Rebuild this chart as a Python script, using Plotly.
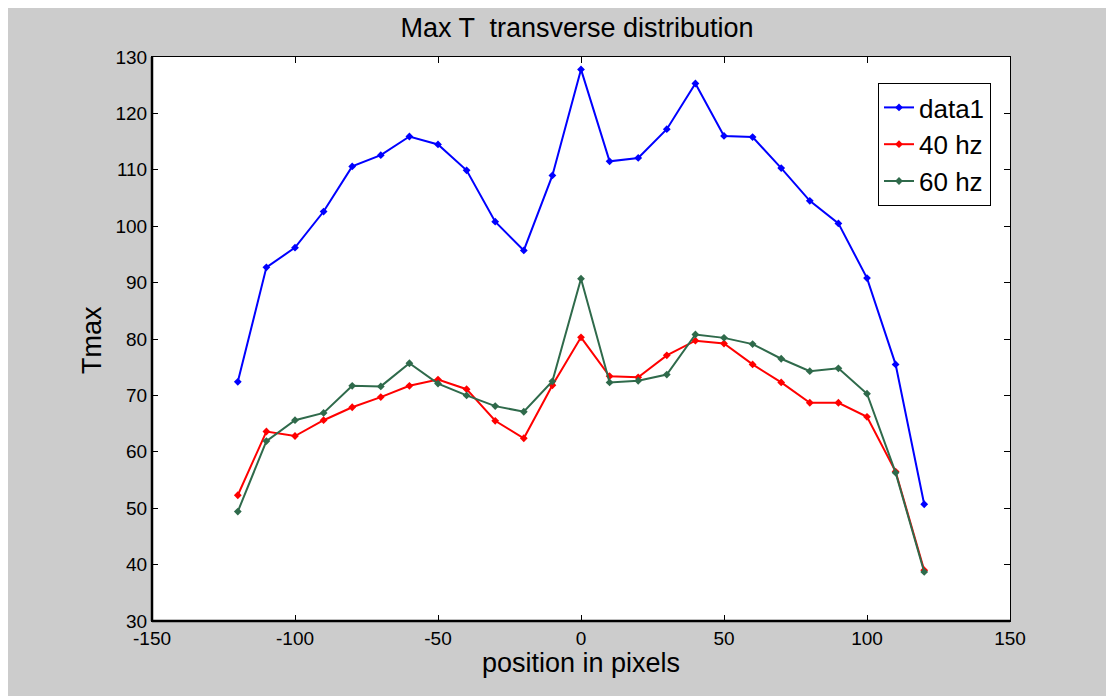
import plotly.graph_objects as go

positions = [-120, -110, -100, -90, -80, -70, -60, -50, -40, -30, -20, -10, 0,
             10, 20, 30, 40, 50, 60, 70, 80, 90, 100, 110, 120]
data1 = [72.4, 92.7, 96.2, 102.6, 110.6, 112.6, 115.9, 114.5, 109.9, 100.8, 95.7, 109.0, 127.8,
         111.5, 112.1, 117.2, 125.3, 116.0, 115.8, 110.3, 104.5, 100.5, 90.8, 75.5, 50.7]
hz40 = [52.3, 63.6, 62.8, 65.6, 67.9, 69.7, 71.7, 72.8, 71.1, 65.5, 62.4, 71.8, 80.3,
        73.4, 73.2, 77.1, 79.7, 79.2, 75.5, 72.3, 68.7, 68.7, 66.2, 56.5, 39.0]
hz60 = [49.4, 61.9, 65.6, 66.9, 71.7, 71.6, 75.7, 72.1, 70.0, 68.1, 67.1, 72.5, 90.7,
        72.3, 72.6, 73.7, 80.8, 80.2, 79.1, 76.5, 74.3, 74.8, 70.3, 56.3, 38.7]
series_names = ["data1", "40 hz", "60 hz"]
x_ticks = [-150, -100, -50, 0, 50, 100, 150]
x_ticklabels = ["-150", "-100", "-50", "0", "50", "100", "150"]
y_ticks = [30, 40, 50, 60, 70, 80, 90, 100, 110, 120, 130]
y_ticklabels = ["30", "40", "50", "60", "70", "80", "90", "100", "110", "120", "130"]

FONT = "Liberation Sans Narrow, Arial Narrow, Liberation Sans, Arial, sans-serif"
colors = ["#0000ff", "#ff0000", "#2f6a4b"]

fig = go.Figure()
for name, ys, c in zip(series_names, [data1, hz40, hz60], colors):
    fig.add_trace(go.Scatter(
        x=positions, y=ys, name=name, mode="lines+markers",
        line=dict(color=c, width=2),
        marker=dict(symbol="diamond", size=6, color=c),
    ))

# the page body adds an 8px white margin at top/left
W, H = 1114, 696
L, T = 144, 49
R = W - 1002
B = H - 613
pw, ph = W - L - R, H - T - B

fig.update_layout(
    width=W, height=H,
    margin=dict(l=L, r=R, t=T, b=B, pad=0),
    paper_bgcolor="#cccccc",
    plot_bgcolor="white",
    font=dict(family=FONT, color="black", size=18),
    title=dict(text="Max T  transverse distribution", x=(569) / W, xref="container",
               y=1 - 20 / H, yref="container", xanchor="center", yanchor="middle",
               font=dict(family=FONT, size=27, color="black")),
    showlegend=True,
    legend=dict(x=(870 - L) / pw, y=1 - (75 - T) / ph, xanchor="left", yanchor="top",
                bgcolor="white", bordercolor="black", borderwidth=1,
                font=dict(family=FONT, size=26, color="black"),
                tracegroupgap=0, itemwidth=30),
    xaxis=dict(range=[-150, 150], tickvals=x_ticks, ticktext=x_ticklabels,
               ticks="inside", ticklen=6,
               tickcolor="black", showline=True, linecolor="black", linewidth=1,
               mirror="ticks", showgrid=False, zeroline=False,
               tickfont=dict(family=FONT, size=19)),
    yaxis=dict(range=[30, 130], tickvals=y_ticks, ticktext=y_ticklabels,
               ticks="inside", ticklen=6,
               tickcolor="black", showline=True, linecolor="black", linewidth=1,
               mirror="ticks", showgrid=False, zeroline=False,
               tickfont=dict(family=FONT, size=19)),
    shapes=[
        dict(type="line", xref="paper", yref="paper", x0=0, x1=0, y0=0, y1=1,
             line=dict(color="black", width=2.5)),
        dict(type="line", xref="paper", yref="paper", x0=0, x1=1, y0=0, y1=0,
             line=dict(color="black", width=2.5)),
    ],
    annotations=[
        dict(text="position in pixels", xref="paper", yref="paper",
             x=0.5, y=-(655 - (T + ph)) / ph, xanchor="center", yanchor="middle",
             showarrow=False, font=dict(family=FONT, size=27, color="black")),
        dict(text="Tmax", xref="paper", yref="paper", textangle=-90,
             x=-(L - 84) / pw, y=1 - (332 - T) / ph, xanchor="center", yanchor="middle",
             showarrow=False, font=dict(family=FONT, size=27, color="black")),
    ],
)

fig.write_html("out.html")
